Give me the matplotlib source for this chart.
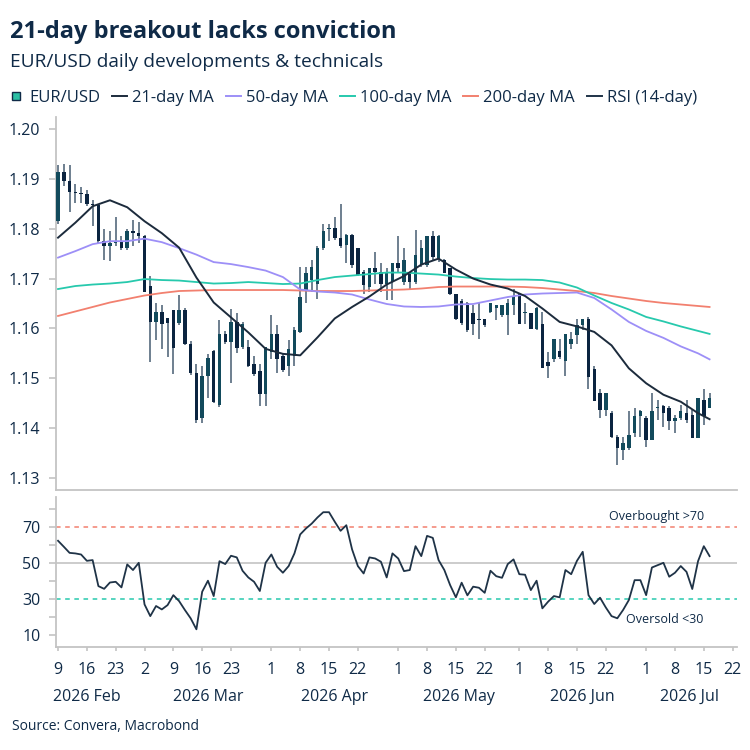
import numpy as np
import pandas as pd
import matplotlib
matplotlib.use("Agg")
import matplotlib.pyplot as plt
from matplotlib.lines import Line2D
from matplotlib.transforms import blended_transform_factory

plt.rcParams['font.family'] = ['Open Sans', 'DejaVu Sans']

NAVY = '#0f2a47'
GREY = '#c4c4c4'

# trading days shown (Feb 9 - Jul 16 2026)
days = pd.bdate_range('2026-02-09', '2026-07-16')
axis_days = pd.bdate_range('2026-02-09', '2026-07-31')

opens = [1.1816, 1.1914, 1.1895, 1.1873, 1.1871, 1.1869, 1.1850, 1.1847, 1.1775, 1.1766,
         1.1771, 1.1775, 1.1762, 1.1795, 1.1792, 1.1785, 1.1686, 1.1613, 1.1633, 1.1620,
         1.1636, 1.1610, 1.1636, 1.1569, 1.1511, 1.1420, 1.1504, 1.1555, 1.1447, 1.1589,
         1.1572, 1.1612, 1.1562, 1.1562, 1.1528, 1.1515, 1.1468, 1.1552, 1.1589, 1.1545,
         1.1525, 1.1545, 1.1593, 1.1677, 1.1697, 1.1690, 1.1761, 1.1799, 1.1802, 1.1782,
         1.1768, 1.1788, 1.1761, 1.1714, 1.1684, 1.1721, 1.1714, 1.1690, 1.1694, 1.1731,
         1.1694, 1.1714, 1.1694, 1.1727, 1.1727, 1.1785, 1.1741, 1.1738, 1.1721, 1.1670,
         1.1655, 1.1650, 1.1630, 1.1619, 1.1619, 1.1633, 1.1640, 1.1626, 1.1626, 1.1646,
         1.1670, 1.1630, 1.1630, 1.1599, 1.1609, 1.1532, 1.1538, 1.1555, 1.1535, 1.1569,
         1.1586, 1.1606, 1.1619, 1.1518, 1.1471, 1.1437, 1.1430, 1.1383, 1.1356, 1.1360,
         1.1390, 1.1424, 1.1420, 1.1376, 1.1440, 1.1444, 1.1440, 1.1414, 1.1420, 1.1430,
         1.1427, 1.1380, 1.1457, 1.1440]
highs = [1.1927, 1.1929, 1.1927, 1.1889, 1.1884, 1.1878, 1.1857, 1.1850, 1.1800, 1.1795,
         1.1824, 1.1785, 1.1800, 1.1818, 1.1814, 1.1788, 1.1706, 1.1650, 1.1647, 1.1621,
         1.1636, 1.1667, 1.1640, 1.1574, 1.1528, 1.1524, 1.1548, 1.1556, 1.1616, 1.1595,
         1.1639, 1.1630, 1.1612, 1.1576, 1.1545, 1.1528, 1.1562, 1.1626, 1.1606, 1.1549,
         1.1576, 1.1603, 1.1724, 1.1724, 1.1738, 1.1765, 1.1809, 1.1809, 1.1824, 1.1849,
         1.1790, 1.1790, 1.1762, 1.1717, 1.1722, 1.1754, 1.1731, 1.1721, 1.1731, 1.1785,
         1.1761, 1.1714, 1.1797, 1.1778, 1.1785, 1.1795, 1.1788, 1.1740, 1.1722, 1.1670,
         1.1660, 1.1653, 1.1646, 1.1650, 1.1619, 1.1650, 1.1646, 1.1646, 1.1660, 1.1680,
         1.1670, 1.1650, 1.1630, 1.1643, 1.1633, 1.1552, 1.1579, 1.1579, 1.1589, 1.1592,
         1.1619, 1.1619, 1.1622, 1.1525, 1.1478, 1.1471, 1.1434, 1.1386, 1.1383, 1.1434,
         1.1440, 1.1437, 1.1424, 1.1471, 1.1457, 1.1447, 1.1444, 1.1427, 1.1447, 1.1457,
         1.1437, 1.1461, 1.1478, 1.1471]
lows = [1.1810, 1.1886, 1.1834, 1.1851, 1.1851, 1.1845, 1.1805, 1.1772, 1.1738, 1.1735,
        1.1766, 1.1757, 1.1758, 1.1766, 1.1772, 1.1674, 1.1532, 1.1576, 1.1559, 1.1542,
        1.1508, 1.1607, 1.1566, 1.1506, 1.1410, 1.1411, 1.1460, 1.1450, 1.1443, 1.1568,
        1.1491, 1.1550, 1.1558, 1.1522, 1.1505, 1.1444, 1.1444, 1.1539, 1.1511, 1.1513,
        1.1505, 1.1525, 1.1591, 1.1650, 1.1674, 1.1660, 1.1758, 1.1775, 1.1778, 1.1761,
        1.1731, 1.1721, 1.1705, 1.1670, 1.1674, 1.1690, 1.1674, 1.1657, 1.1657, 1.1714,
        1.1687, 1.1677, 1.1690, 1.1724, 1.1724, 1.1738, 1.1734, 1.1711, 1.1668, 1.1616,
        1.1606, 1.1592, 1.1586, 1.1579, 1.1602, 1.1630, 1.1616, 1.1623, 1.1586, 1.1626,
        1.1609, 1.1609, 1.1599, 1.1596, 1.1521, 1.1501, 1.1532, 1.1538, 1.1505, 1.1559,
        1.1569, 1.1596, 1.1478, 1.1454, 1.1420, 1.1424, 1.1380, 1.1326, 1.1336, 1.1356,
        1.1383, 1.1383, 1.1363, 1.1376, 1.1417, 1.1403, 1.1396, 1.1390, 1.1417, 1.1410,
        1.1380, 1.1380, 1.1407, 1.1440]
closes = [1.1914, 1.1895, 1.1873, 1.1871, 1.1869, 1.1850, 1.1847, 1.1775, 1.1766, 1.1771,
          1.1775, 1.1762, 1.1795, 1.1792, 1.1785, 1.1674, 1.1613, 1.1633, 1.1609, 1.1610,
          1.1560, 1.1636, 1.1569, 1.1511, 1.1417, 1.1505, 1.1541, 1.1453, 1.1589, 1.1572,
          1.1612, 1.1560, 1.1609, 1.1525, 1.1508, 1.1468, 1.1562, 1.1589, 1.1539, 1.1517,
          1.1559, 1.1596, 1.1664, 1.1711, 1.1724, 1.1761, 1.1795, 1.1802, 1.1782, 1.1765,
          1.1788, 1.1727, 1.1707, 1.1687, 1.1721, 1.1714, 1.1690, 1.1711, 1.1731, 1.1721,
          1.1738, 1.1694, 1.1748, 1.1761, 1.1785, 1.1744, 1.1785, 1.1711, 1.1670, 1.1619,
          1.1610, 1.1596, 1.1609, 1.1616, 1.1606, 1.1650, 1.1646, 1.1646, 1.1650, 1.1663,
          1.1609, 1.1633, 1.1599, 1.1640, 1.1521, 1.1525, 1.1579, 1.1542, 1.1589, 1.1579,
          1.1606, 1.1619, 1.1502, 1.1454, 1.1437, 1.1471, 1.1383, 1.1360, 1.1370, 1.1387,
          1.1424, 1.1434, 1.1376, 1.1434, 1.1440, 1.1430, 1.1414, 1.1420, 1.1434, 1.1417,
          1.1380, 1.1461, 1.1424, 1.1461]

# moving averages, read every 3rd trading day (plus the last day)
ma_days = list(days[::3]) + [days[-1]]
ma21 = [1.1782, 1.1812, 1.1845, 1.1857, 1.1843, 1.1815, 1.1791, 1.1762, 1.1702, 1.1652,
        1.1622, 1.1592, 1.1559, 1.1549, 1.1546, 1.1582, 1.1620, 1.1643, 1.1664, 1.1688,
        1.1705, 1.1728, 1.1740, 1.1718, 1.1700, 1.1688, 1.1680, 1.1665, 1.1640, 1.1613,
        1.1604, 1.1593, 1.1566, 1.1520, 1.1490, 1.1467, 1.1453, 1.1430, 1.1418]
ma50 = [1.1742, 1.1755, 1.1769, 1.1775, 1.1775, 1.1780, 1.1773, 1.1761, 1.1748, 1.1733,
        1.1729, 1.1723, 1.1716, 1.1703, 1.1678, 1.1674, 1.1672, 1.1668, 1.1658, 1.1649,
        1.1644, 1.1643, 1.1644, 1.1648, 1.1649, 1.1656, 1.1663, 1.1668, 1.1670, 1.1671,
        1.1672, 1.1661, 1.1638, 1.1613, 1.1595, 1.1581, 1.1564, 1.1550, 1.1538]
ma100 = [1.1679, 1.1685, 1.1688, 1.1690, 1.1693, 1.1699, 1.1697, 1.1696, 1.1693, 1.1690,
         1.1691, 1.1693, 1.1691, 1.1689, 1.1690, 1.1697, 1.1703, 1.1706, 1.1709, 1.1712,
         1.1712, 1.1710, 1.1708, 1.1704, 1.1701, 1.1699, 1.1698, 1.1698, 1.1697, 1.1692,
         1.1682, 1.1666, 1.1651, 1.1638, 1.1623, 1.1614, 1.1604, 1.1595, 1.1589]
ma200 = [1.1625, 1.1634, 1.1643, 1.1652, 1.1659, 1.1666, 1.1671, 1.1675, 1.1676, 1.1677,
         1.1677, 1.1677, 1.1677, 1.1677, 1.1676, 1.1675, 1.1675, 1.1675, 1.1676, 1.1677,
         1.1678, 1.1680, 1.1683, 1.1684, 1.1684, 1.1684, 1.1684, 1.1683, 1.1681, 1.1678,
         1.1675, 1.1671, 1.1665, 1.1660, 1.1655, 1.1651, 1.1648, 1.1645, 1.1643]

rsi = [62.3, 59.0, 55.6, 55.3, 54.7, 51.2, 51.6, 37.2, 35.7, 39.2,
       39.6, 36.5, 49.2, 46.1, 50.1, 27.1, 20.6, 26.2, 24.3, 26.7,
       32.2, 28.9, 24.0, 19.4, 13.3, 34.1, 40.2, 31.7, 51.0, 49.4,
       54.0, 53.1, 45.7, 42.0, 39.6, 34.5, 50.1, 54.7, 47.9, 44.6,
       48.3, 55.3, 65.8, 69.1, 71.8, 75.2, 78.1, 78.1, 72.8, 67.8,
       70.9, 57.5, 48.3, 44.2, 53.1, 52.5, 50.7, 42.0, 55.3, 52.5,
       45.5, 46.1, 59.3, 53.8, 65.0, 63.9, 51.6, 46.1, 37.8, 31.0,
       39.1, 32.1, 36.9, 36.3, 33.5, 45.7, 42.7, 41.8, 49.4, 52.0,
       43.8, 43.5, 35.0, 40.2, 24.9, 28.6, 31.7, 31.0, 46.1, 43.8,
       51.2, 56.2, 32.2, 27.3, 30.8, 25.4, 20.6, 19.4, 24.0, 29.5,
       40.5, 40.5, 32.2, 47.5, 48.8, 50.1, 42.4, 44.6, 48.3, 45.1,
       35.6, 51.0, 59.3, 53.8]

tick_dates = ['2026-02-09', '2026-02-16', '2026-02-23', '2026-03-02', '2026-03-09',
              '2026-03-16', '2026-03-23', '2026-04-01', '2026-04-08', '2026-04-15',
              '2026-04-22', '2026-05-01', '2026-05-08', '2026-05-15', '2026-05-22',
              '2026-06-01', '2026-06-08', '2026-06-15', '2026-06-22', '2026-07-01',
              '2026-07-08', '2026-07-15', '2026-07-22']
long_tick_dates = ['2026-02-09', '2026-03-02', '2026-04-01', '2026-05-01', '2026-06-01',
                   '2026-07-01']
months = ['2026-02', '2026-03', '2026-04', '2026-05', '2026-06', '2026-07']

pos = {d: i for i, d in enumerate(axis_days)}
x = np.array([pos[d] for d in days])
x_ma = np.array([pos[d] for d in ma_days])

o, h, l, c = map(np.array, (opens, highs, lows, closes))
up = c >= o

fig = plt.figure(figsize=(7.5, 7.5), dpi=100)
ax = fig.add_axes([0.0743, 0.3467, 0.9087, 0.4973])
ax2 = fig.add_axes([0.0743, 0.1373, 0.9087, 0.2000])

# candles
ax.vlines(x, l, h, color='#6e7f8f', lw=1.4, zorder=2)
body_lo = np.minimum(o, c)
body_h = np.maximum(np.abs(c - o), 0.00025)
ax.bar(x, body_h, bottom=body_lo, width=0.6,
       color=np.where(up, '#124a5c', '#0b2440'), zorder=3)

ax.plot(x_ma, ma200, color='#f2806f', lw=1.3, zorder=4)
ax.plot(x_ma, ma100, color='#27c9ad', lw=1.3, zorder=4)
ax.plot(x_ma, ma50, color='#9d8ff7', lw=1.3, zorder=4)
ax.plot(x_ma, ma21, color='#1c2b3c', lw=1.4, zorder=5)

xmin, xmax = -0.4, 117.8
for a in (ax, ax2):
    a.set_xlim(xmin, xmax)
    for s in ('top', 'right'):
        a.spines[s].set_visible(False)
    for s in ('left', 'bottom'):
        a.spines[s].set_color(GREY)
        a.spines[s].set_linewidth(1.3)
    a.tick_params(axis='y', colors=GREY, labelcolor=NAVY, labelsize=11.5,
                  length=5, width=1.2, pad=6)

yt = np.arange(1.13, 1.2001, 0.01)
ax.set_ylim(1.1276, 1.2024)
ax.set_yticks(yt)
ax.set_yticklabels([f'{v:.2f}' for v in yt])
ax.set_xticks([])

# RSI panel
ax2.axhline(50, color=GREY, lw=1.2, zorder=1)
ax2.axhline(70, color='#f2806f', lw=1.1, ls=(0, (3, 3)), zorder=1)
ax2.axhline(30, color='#27c9ad', lw=1.1, ls=(0, (3, 3)), zorder=1)
ax2.plot(x, rsi, color='#1f3347', lw=1.3, zorder=3)
ax2.set_ylim(3.5, 86.5)
ax2.set_yticks([10, 30, 50, 70])
ax2.set_yticks([20, 40, 60, 80], minor=True)
ax2.tick_params(axis='y', which='minor', colors=GREY, length=5, width=1.2)
ax2.text(pos[pd.Timestamp('2026-07-15')], 72, 'Overbought >70', ha='right', va='bottom',
         fontsize=9, color=NAVY)
ax2.text(pos[pd.Timestamp('2026-07-15')], 22.5, 'Oversold <30', ha='right', va='top',
         fontsize=9, color=NAVY)

tick_ts = [pd.Timestamp(t) for t in tick_dates]
ax2.set_xticks([pos[t] for t in tick_ts])
ax2.set_xticklabels([str(t.day) for t in tick_ts])
ax2.set_xticks([pos[pd.Timestamp(t)] for t in long_tick_dates], minor=True)
ax2.tick_params(axis='x', which='major', colors=GREY, labelcolor=NAVY, labelsize=11.5,
                length=3, width=1.2, pad=8)
ax2.tick_params(axis='x', which='minor', colors=GREY, length=6, width=1.2)

# month names under the day numbers, centred on the weekly ticks of each month
trans = blended_transform_factory(ax2.transData, ax2.transAxes)
for m in months:
    mt = [pos[t] for t in tick_ts if t.strftime('%Y-%m') == m]
    nxt = [pos[t] for t in tick_ts if t.strftime('%Y-%m') > m]
    hi = nxt[0] if (nxt and m != months[0]) else mt[-1]
    ax2.text((mt[0] + hi) / 2, -0.335, pd.Timestamp(m + '-01').strftime('%Y %b'),
             transform=trans, ha='center', va='center', fontsize=11.5, color=NAVY)

# titles
fig.text(0.013, 0.950, '21-day breakout lacks conviction', fontsize=17,
         fontweight='bold', color=NAVY, va='baseline')
fig.text(0.013, 0.911, 'EUR/USD daily developments & technicals', fontsize=13.8,
         color=NAVY, va='baseline')
fig.text(0.016, 0.031, 'Source: Convera, Macrobond', fontsize=10, color=NAVY,
         va='center')

handles = [
    Line2D([], [], ls='none', marker='s', markersize=6, mfc='#2bbfa4', mec=NAVY, mew=1),
    Line2D([], [], color='#1c2b3c', lw=1.4),
    Line2D([], [], color='#9d8ff7', lw=1.4),
    Line2D([], [], color='#27c9ad', lw=1.4),
    Line2D([], [], color='#f2806f', lw=1.4),
    Line2D([], [], color='#1f3347', lw=1.4),
]
labels = ['EUR/USD', '21-day MA', '50-day MA', '100-day MA', '200-day MA', 'RSI (14-day)']
leg = fig.legend(handles, labels, loc='center left', bbox_to_anchor=(0.003, 0.869),
                 ncol=6, frameon=False, fontsize=12, handlelength=0.9,
                 handletextpad=0.3, columnspacing=0.72, borderaxespad=0)
for t in leg.get_texts():
    t.set_color(NAVY)

fig.savefig('out.png', dpi=100)
